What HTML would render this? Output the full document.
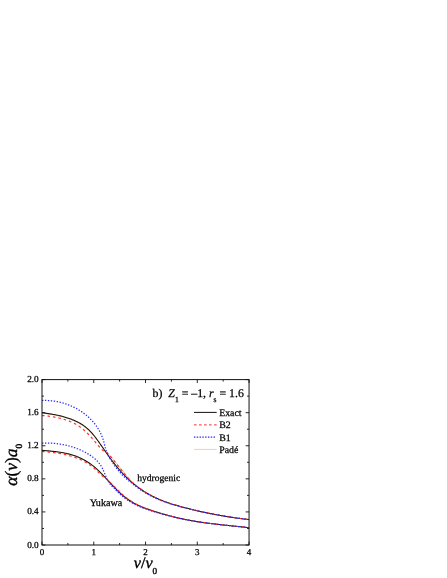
<!DOCTYPE html>
<html><head><meta charset="utf-8"><title>chart</title>
<style>
html,body{margin:0;padding:0;background:#fff;}
body{width:447px;height:578px;position:relative;overflow:hidden;font-family:"Liberation Serif",serif;}
</style></head><body>
<svg width="447" height="578" viewBox="0 0 447 578" style="position:absolute;left:0;top:0;will-change:transform">
<rect width="447" height="578" fill="#fff"/>
<g fill="none" stroke-linejoin="round">
<path d="M42.00,412.99 L42.80,413.12 L43.60,413.24 L44.40,413.36 L45.20,413.48 L46.00,413.61 L46.80,413.73 L47.60,413.86 L48.40,413.99 L49.19,414.12 L49.99,414.25 L50.79,414.39 L51.59,414.53 L52.39,414.67 L53.19,414.81 L53.99,414.96 L54.79,415.11 L55.59,415.27 L56.39,415.43 L57.19,415.60 L57.99,415.77 L58.79,415.95 L59.59,416.14 L60.39,416.33 L61.19,416.53 L61.99,416.73 L62.78,416.94 L63.58,417.16 L64.38,417.38 L65.18,417.62 L65.98,417.86 L66.78,418.11 L67.58,418.37 L68.38,418.64 L69.18,418.92 L69.98,419.21 L70.78,419.50 L71.58,419.81 L72.38,420.13 L73.18,420.46 L73.98,420.80 L74.78,421.16 L75.58,421.52 L76.38,421.90 L77.17,422.29 L77.97,422.70 L78.77,423.12 L79.57,423.56 L80.37,424.03 L81.17,424.51 L81.97,425.01 L82.77,425.54 L83.57,426.09 L84.37,426.66 L85.17,427.27 L85.97,427.90 L86.77,428.56 L87.57,429.25 L88.37,429.97 L89.17,430.73 L89.97,431.52 L90.76,432.34 L91.56,433.21 L92.36,434.10 L93.16,435.04 L93.96,436.00 L94.76,437.00 L95.56,438.02 L96.36,439.07 L97.16,440.14 L97.96,441.23 L98.76,442.33 L99.56,443.45 L100.36,444.57 L101.16,445.68 L101.96,446.77 L102.76,447.84 L103.56,448.89 L104.35,449.91 L105.15,450.81 L105.95,451.60 L106.75,452.36 L107.55,453.13 L108.35,453.95 L109.15,454.75 L109.95,455.55 L110.75,456.38 L111.55,457.27 L112.35,458.25 L113.15,459.24 L113.95,460.22 L114.75,461.20 L115.55,462.18 L116.35,463.15 L117.15,464.12 L117.94,465.09 L118.74,466.06 L119.54,467.04 L120.34,468.01 L121.14,468.97 L121.94,469.93 L122.74,470.91 L123.54,471.93 L124.34,472.97 L125.14,474.00 L125.94,475.00 L126.74,475.96 L127.54,476.92 L128.34,477.86 L129.14,478.78 L129.94,479.66 L130.74,480.50 L131.54,481.29 L132.33,482.06 L133.13,482.81 L133.93,483.55 L134.73,484.26 L135.53,484.95 L136.33,485.62 L137.13,486.27 L137.93,486.90 L138.73,487.51 L139.53,488.11 L140.33,488.69 L141.13,489.26 L141.93,489.83 L142.73,490.38 L143.53,490.91 L144.33,491.44 L145.13,491.96 L145.92,492.46 L146.72,492.95 L147.52,493.44 L148.32,493.91 L149.12,494.37 L149.92,494.82 L150.72,495.26 L151.52,495.70 L152.32,496.12 L153.12,496.53 L153.92,496.93 L154.72,497.33 L155.52,497.71 L156.32,498.09 L157.12,498.46 L157.92,498.82 L158.72,499.17 L159.51,499.51 L160.31,499.85 L161.11,500.18 L161.91,500.50 L162.71,500.81 L163.51,501.12 L164.31,501.43 L165.11,501.72 L165.91,502.02 L166.71,502.30 L167.51,502.58 L168.31,502.86 L169.11,503.13 L169.91,503.39 L170.71,503.66 L171.51,503.91 L172.31,504.17 L173.11,504.41 L173.90,504.66 L174.70,504.90 L175.50,505.14 L176.30,505.37 L177.10,505.60 L177.90,505.83 L178.70,506.06 L179.50,506.28 L180.30,506.50 L181.10,506.72 L181.90,506.93 L182.70,507.15 L183.50,507.36 L184.30,507.57 L185.10,507.78 L185.90,507.99 L186.70,508.20 L187.49,508.40 L188.29,508.60 L189.09,508.80 L189.89,509.00 L190.69,509.20 L191.49,509.40 L192.29,509.59 L193.09,509.78 L193.89,509.98 L194.69,510.17 L195.49,510.35 L196.29,510.54 L197.09,510.72 L197.89,510.91 L198.69,511.09 L199.49,511.27 L200.29,511.45 L201.08,511.63 L201.88,511.80 L202.68,511.97 L203.48,512.15 L204.28,512.32 L205.08,512.49 L205.88,512.65 L206.68,512.82 L207.48,512.99 L208.28,513.15 L209.08,513.31 L209.88,513.47 L210.68,513.63 L211.48,513.79 L212.28,513.94 L213.08,514.10 L213.88,514.25 L214.67,514.40 L215.47,514.55 L216.27,514.70 L217.07,514.84 L217.87,514.99 L218.67,515.13 L219.47,515.28 L220.27,515.42 L221.07,515.56 L221.87,515.69 L222.67,515.83 L223.47,515.97 L224.27,516.10 L225.07,516.23 L225.87,516.37 L226.67,516.49 L227.47,516.62 L228.27,516.75 L229.06,516.88 L229.86,517.00 L230.66,517.12 L231.46,517.25 L232.26,517.37 L233.06,517.48 L233.86,517.60 L234.66,517.72 L235.46,517.83 L236.26,517.95 L237.06,518.06 L237.86,518.17 L238.66,518.28 L239.46,518.39 L240.26,518.50 L241.06,518.60 L241.86,518.71 L242.65,518.81 L243.45,518.91 L244.25,519.01 L245.05,519.11 L245.85,519.21 L246.65,519.31 L247.45,519.41 L248.25,519.50 L249.05,519.59" stroke="#fbb883" stroke-width="0.9"/>
<path d="M42.00,450.50 L42.80,450.58 L43.60,450.66 L44.40,450.73 L45.20,450.81 L46.00,450.89 L46.80,450.96 L47.60,451.04 L48.40,451.12 L49.19,451.19 L49.99,451.27 L50.79,451.35 L51.59,451.44 L52.39,451.52 L53.19,451.61 L53.99,451.70 L54.79,451.79 L55.59,451.89 L56.39,451.99 L57.19,452.09 L57.99,452.20 L58.79,452.31 L59.59,452.43 L60.39,452.56 L61.19,452.69 L61.99,452.82 L62.78,452.96 L63.58,453.11 L64.38,453.27 L65.18,453.43 L65.98,453.60 L66.78,453.78 L67.58,453.97 L68.38,454.16 L69.18,454.36 L69.98,454.58 L70.78,454.80 L71.58,455.03 L72.38,455.27 L73.18,455.53 L73.98,455.79 L74.78,456.07 L75.58,456.35 L76.38,456.65 L77.17,456.96 L77.97,457.28 L78.77,457.62 L79.57,457.96 L80.37,458.32 L81.17,458.70 L81.97,459.09 L82.77,459.49 L83.57,459.91 L84.37,460.34 L85.17,460.79 L85.97,461.25 L86.77,461.73 L87.57,462.23 L88.37,462.75 L89.17,463.28 L89.97,463.83 L90.76,464.40 L91.56,464.99 L92.36,465.60 L93.16,466.22 L93.96,466.87 L94.76,467.54 L95.56,468.22 L96.36,468.92 L97.16,469.64 L97.96,470.36 L98.76,471.10 L99.56,471.85 L100.36,472.61 L101.16,473.38 L101.96,474.16 L102.76,474.95 L103.56,475.73 L104.35,476.46 L105.15,477.16 L105.95,477.85 L106.75,478.55 L107.55,479.28 L108.35,480.05 L109.15,480.83 L109.95,481.61 L110.75,482.39 L111.55,483.17 L112.35,483.97 L113.15,484.78 L113.95,485.60 L114.75,486.43 L115.55,487.25 L116.35,488.07 L117.15,488.87 L117.94,489.67 L118.74,490.45 L119.54,491.23 L120.34,491.99 L121.14,492.73 L121.94,493.48 L122.74,494.22 L123.54,494.97 L124.34,495.70 L125.14,496.42 L125.94,497.12 L126.74,497.80 L127.54,498.44 L128.34,499.06 L129.14,499.65 L129.94,500.22 L130.74,500.78 L131.54,501.32 L132.33,501.84 L133.13,502.35 L133.93,502.84 L134.73,503.30 L135.53,503.76 L136.33,504.19 L137.13,504.61 L137.93,505.01 L138.73,505.39 L139.53,505.76 L140.33,506.12 L141.13,506.47 L141.93,506.82 L142.73,507.15 L143.53,507.47 L144.33,507.79 L145.13,508.10 L145.92,508.40 L146.72,508.70 L147.52,508.99 L148.32,509.28 L149.12,509.56 L149.92,509.84 L150.72,510.11 L151.52,510.38 L152.32,510.65 L153.12,510.91 L153.92,511.18 L154.72,511.44 L155.52,511.69 L156.32,511.95 L157.12,512.20 L157.92,512.45 L158.72,512.70 L159.51,512.94 L160.31,513.18 L161.11,513.42 L161.91,513.66 L162.71,513.89 L163.51,514.13 L164.31,514.36 L165.11,514.58 L165.91,514.81 L166.71,515.03 L167.51,515.25 L168.31,515.47 L169.11,515.69 L169.91,515.90 L170.71,516.11 L171.51,516.32 L172.31,516.53 L173.11,516.73 L173.90,516.93 L174.70,517.13 L175.50,517.33 L176.30,517.52 L177.10,517.71 L177.90,517.90 L178.70,518.08 L179.50,518.27 L180.30,518.45 L181.10,518.62 L181.90,518.80 L182.70,518.97 L183.50,519.14 L184.30,519.30 L185.10,519.47 L185.90,519.63 L186.70,519.79 L187.49,519.94 L188.29,520.09 L189.09,520.24 L189.89,520.39 L190.69,520.54 L191.49,520.68 L192.29,520.82 L193.09,520.96 L193.89,521.10 L194.69,521.23 L195.49,521.36 L196.29,521.49 L197.09,521.62 L197.89,521.75 L198.69,521.87 L199.49,521.99 L200.29,522.11 L201.08,522.23 L201.88,522.35 L202.68,522.46 L203.48,522.57 L204.28,522.69 L205.08,522.80 L205.88,522.90 L206.68,523.01 L207.48,523.12 L208.28,523.22 L209.08,523.32 L209.88,523.42 L210.68,523.53 L211.48,523.62 L212.28,523.72 L213.08,523.82 L213.88,523.91 L214.67,524.01 L215.47,524.10 L216.27,524.19 L217.07,524.28 L217.87,524.38 L218.67,524.47 L219.47,524.55 L220.27,524.64 L221.07,524.73 L221.87,524.82 L222.67,524.90 L223.47,524.99 L224.27,525.07 L225.07,525.16 L225.87,525.24 L226.67,525.33 L227.47,525.41 L228.27,525.49 L229.06,525.58 L229.86,525.66 L230.66,525.74 L231.46,525.82 L232.26,525.91 L233.06,525.99 L233.86,526.07 L234.66,526.15 L235.46,526.24 L236.26,526.32 L237.06,526.40 L237.86,526.49 L238.66,526.57 L239.46,526.65 L240.26,526.74 L241.06,526.82 L241.86,526.91 L242.65,526.99 L243.45,527.08 L244.25,527.17 L245.05,527.25 L245.85,527.34 L246.65,527.43 L247.45,527.52 L248.25,527.61 L249.05,527.70" stroke="#fbb883" stroke-width="0.9"/>
<path d="M42.00,412.69 L42.80,412.81 L43.60,412.92 L44.40,413.03 L45.20,413.15 L46.00,413.26 L46.80,413.38 L47.60,413.50 L48.40,413.62 L49.19,413.74 L49.99,413.87 L50.79,414.00 L51.59,414.13 L52.39,414.26 L53.19,414.40 L53.99,414.55 L54.79,414.69 L55.59,414.85 L56.39,415.00 L57.19,415.17 L57.99,415.33 L58.79,415.51 L59.59,415.69 L60.39,415.88 L61.19,416.07 L61.99,416.27 L62.78,416.48 L63.58,416.69 L64.38,416.91 L65.18,417.15 L65.98,417.39 L66.78,417.63 L67.58,417.89 L68.38,418.16 L69.18,418.43 L69.98,418.72 L70.78,419.02 L71.58,419.32 L72.38,419.64 L73.18,419.97 L73.98,420.31 L74.78,420.66 L75.58,421.03 L76.38,421.40 L77.17,421.80 L77.97,422.20 L78.77,422.63 L79.57,423.07 L80.37,423.53 L81.17,424.01 L81.97,424.51 L82.77,425.04 L83.57,425.59 L84.37,426.16 L85.17,426.77 L85.97,427.40 L86.77,428.06 L87.57,428.75 L88.37,429.47 L89.17,430.23 L89.97,431.02 L90.76,431.84 L91.56,432.71 L92.36,433.61 L93.16,434.55 L93.96,435.52 L94.76,436.52 L95.56,437.55 L96.36,438.61 L97.16,439.69 L97.96,440.79 L98.76,441.91 L99.56,443.04 L100.36,444.18 L101.16,445.34 L101.96,446.50 L102.76,447.66 L103.56,448.82 L104.35,449.98 L105.15,451.14 L105.95,452.29 L106.75,453.43 L107.55,454.56 L108.35,455.67 L109.15,456.78 L109.95,457.87 L110.75,458.95 L111.55,460.02 L112.35,461.07 L113.15,462.11 L113.95,463.14 L114.75,464.16 L115.55,465.16 L116.35,466.14 L117.15,467.12 L117.94,468.07 L118.74,469.02 L119.54,469.95 L120.34,470.86 L121.14,471.75 L121.94,472.64 L122.74,473.50 L123.54,474.35 L124.34,475.18 L125.14,476.00 L125.94,476.81 L126.74,477.60 L127.54,478.37 L128.34,479.13 L129.14,479.88 L129.94,480.61 L130.74,481.33 L131.54,482.03 L132.33,482.72 L133.13,483.40 L133.93,484.07 L134.73,484.72 L135.53,485.36 L136.33,485.98 L137.13,486.60 L137.93,487.20 L138.73,487.79 L139.53,488.37 L140.33,488.93 L141.13,489.49 L141.93,490.03 L142.73,490.56 L143.53,491.09 L144.33,491.60 L145.13,492.10 L145.92,492.59 L146.72,493.07 L147.52,493.54 L148.32,494.00 L149.12,494.45 L149.92,494.89 L150.72,495.32 L151.52,495.74 L152.32,496.16 L153.12,496.56 L153.92,496.96 L154.72,497.35 L155.52,497.73 L156.32,498.10 L157.12,498.46 L157.92,498.82 L158.72,499.17 L159.51,499.51 L160.31,499.85 L161.11,500.18 L161.91,500.50 L162.71,500.81 L163.51,501.12 L164.31,501.43 L165.11,501.72 L165.91,502.02 L166.71,502.30 L167.51,502.58 L168.31,502.86 L169.11,503.13 L169.91,503.39 L170.71,503.66 L171.51,503.91 L172.31,504.17 L173.11,504.41 L173.90,504.66 L174.70,504.90 L175.50,505.14 L176.30,505.37 L177.10,505.60 L177.90,505.83 L178.70,506.06 L179.50,506.28 L180.30,506.50 L181.10,506.72 L181.90,506.93 L182.70,507.15 L183.50,507.36 L184.30,507.57 L185.10,507.78 L185.90,507.99 L186.70,508.20 L187.49,508.40 L188.29,508.60 L189.09,508.80 L189.89,509.00 L190.69,509.20 L191.49,509.40 L192.29,509.59 L193.09,509.78 L193.89,509.98 L194.69,510.17 L195.49,510.35 L196.29,510.54 L197.09,510.72 L197.89,510.91 L198.69,511.09 L199.49,511.27 L200.29,511.45 L201.08,511.63 L201.88,511.80 L202.68,511.97 L203.48,512.15 L204.28,512.32 L205.08,512.49 L205.88,512.65 L206.68,512.82 L207.48,512.99 L208.28,513.15 L209.08,513.31 L209.88,513.47 L210.68,513.63 L211.48,513.79 L212.28,513.94 L213.08,514.10 L213.88,514.25 L214.67,514.40 L215.47,514.55 L216.27,514.70 L217.07,514.84 L217.87,514.99 L218.67,515.13 L219.47,515.28 L220.27,515.42 L221.07,515.56 L221.87,515.69 L222.67,515.83 L223.47,515.97 L224.27,516.10 L225.07,516.23 L225.87,516.37 L226.67,516.49 L227.47,516.62 L228.27,516.75 L229.06,516.88 L229.86,517.00 L230.66,517.12 L231.46,517.25 L232.26,517.37 L233.06,517.48 L233.86,517.60 L234.66,517.72 L235.46,517.83 L236.26,517.95 L237.06,518.06 L237.86,518.17 L238.66,518.28 L239.46,518.39 L240.26,518.50 L241.06,518.60 L241.86,518.71 L242.65,518.81 L243.45,518.91 L244.25,519.01 L245.05,519.11 L245.85,519.21 L246.65,519.31 L247.45,519.41 L248.25,519.50 L249.05,519.59" stroke="#1a1208" stroke-width="1.05"/>
<path d="M42.00,450.30 L42.80,450.37 L43.60,450.45 L44.40,450.52 L45.20,450.59 L46.00,450.66 L46.80,450.74 L47.60,450.81 L48.40,450.88 L49.19,450.96 L49.99,451.03 L50.79,451.11 L51.59,451.19 L52.39,451.27 L53.19,451.36 L53.99,451.44 L54.79,451.53 L55.59,451.63 L56.39,451.73 L57.19,451.83 L57.99,451.93 L58.79,452.05 L59.59,452.16 L60.39,452.28 L61.19,452.41 L61.99,452.55 L62.78,452.69 L63.58,452.83 L64.38,452.99 L65.18,453.15 L65.98,453.32 L66.78,453.49 L67.58,453.68 L68.38,453.87 L69.18,454.08 L69.98,454.29 L70.78,454.51 L71.58,454.74 L72.38,454.98 L73.18,455.23 L73.98,455.50 L74.78,455.77 L75.58,456.06 L76.38,456.35 L77.17,456.66 L77.97,456.98 L78.77,457.32 L79.57,457.67 L80.37,458.03 L81.17,458.40 L81.97,458.79 L82.77,459.19 L83.57,459.61 L84.37,460.04 L85.17,460.49 L85.97,460.95 L86.77,461.44 L87.57,461.93 L88.37,462.45 L89.17,462.98 L89.97,463.53 L90.76,464.10 L91.56,464.69 L92.36,465.30 L93.16,465.92 L93.96,466.57 L94.76,467.24 L95.56,467.93 L96.36,468.64 L97.16,469.36 L97.96,470.11 L98.76,470.88 L99.56,471.66 L100.36,472.46 L101.16,473.27 L101.96,474.10 L102.76,474.93 L103.56,475.78 L104.35,476.64 L105.15,477.50 L105.95,478.37 L106.75,479.24 L107.55,480.12 L108.35,480.99 L109.15,481.86 L109.95,482.73 L110.75,483.60 L111.55,484.46 L112.35,485.31 L113.15,486.16 L113.95,487.00 L114.75,487.83 L115.55,488.65 L116.35,489.45 L117.15,490.25 L117.94,491.03 L118.74,491.80 L119.54,492.56 L120.34,493.30 L121.14,494.03 L121.94,494.74 L122.74,495.43 L123.54,496.10 L124.34,496.76 L125.14,497.39 L125.94,498.01 L126.74,498.60 L127.54,499.18 L128.34,499.74 L129.14,500.28 L129.94,500.80 L130.74,501.31 L131.54,501.80 L132.33,502.27 L133.13,502.73 L133.93,503.18 L134.73,503.61 L135.53,504.03 L136.33,504.43 L137.13,504.83 L137.93,505.21 L138.73,505.58 L139.53,505.94 L140.33,506.28 L141.13,506.62 L141.93,506.95 L142.73,507.28 L143.53,507.59 L144.33,507.90 L145.13,508.20 L145.92,508.49 L146.72,508.78 L147.52,509.06 L148.32,509.34 L149.12,509.61 L149.92,509.88 L150.72,510.15 L151.52,510.41 L152.32,510.67 L153.12,510.93 L153.92,511.19 L154.72,511.45 L155.52,511.70 L156.32,511.95 L157.12,512.20 L157.92,512.45 L158.72,512.70 L159.51,512.94 L160.31,513.18 L161.11,513.42 L161.91,513.66 L162.71,513.89 L163.51,514.13 L164.31,514.36 L165.11,514.58 L165.91,514.81 L166.71,515.03 L167.51,515.25 L168.31,515.47 L169.11,515.69 L169.91,515.90 L170.71,516.11 L171.51,516.32 L172.31,516.53 L173.11,516.73 L173.90,516.93 L174.70,517.13 L175.50,517.33 L176.30,517.52 L177.10,517.71 L177.90,517.90 L178.70,518.08 L179.50,518.27 L180.30,518.45 L181.10,518.62 L181.90,518.80 L182.70,518.97 L183.50,519.14 L184.30,519.30 L185.10,519.47 L185.90,519.63 L186.70,519.79 L187.49,519.94 L188.29,520.09 L189.09,520.24 L189.89,520.39 L190.69,520.54 L191.49,520.68 L192.29,520.82 L193.09,520.96 L193.89,521.10 L194.69,521.23 L195.49,521.36 L196.29,521.49 L197.09,521.62 L197.89,521.75 L198.69,521.87 L199.49,521.99 L200.29,522.11 L201.08,522.23 L201.88,522.35 L202.68,522.46 L203.48,522.57 L204.28,522.69 L205.08,522.80 L205.88,522.90 L206.68,523.01 L207.48,523.12 L208.28,523.22 L209.08,523.32 L209.88,523.42 L210.68,523.53 L211.48,523.62 L212.28,523.72 L213.08,523.82 L213.88,523.91 L214.67,524.01 L215.47,524.10 L216.27,524.19 L217.07,524.28 L217.87,524.38 L218.67,524.47 L219.47,524.55 L220.27,524.64 L221.07,524.73 L221.87,524.82 L222.67,524.90 L223.47,524.99 L224.27,525.07 L225.07,525.16 L225.87,525.24 L226.67,525.33 L227.47,525.41 L228.27,525.49 L229.06,525.58 L229.86,525.66 L230.66,525.74 L231.46,525.82 L232.26,525.91 L233.06,525.99 L233.86,526.07 L234.66,526.15 L235.46,526.24 L236.26,526.32 L237.06,526.40 L237.86,526.49 L238.66,526.57 L239.46,526.65 L240.26,526.74 L241.06,526.82 L241.86,526.91 L242.65,526.99 L243.45,527.08 L244.25,527.17 L245.05,527.25 L245.85,527.34 L246.65,527.43 L247.45,527.52 L248.25,527.61 L249.05,527.70" stroke="#1a1208" stroke-width="1.05"/>
<path d="M42.00,415.49 L42.80,415.57 L43.60,415.64 L44.40,415.72 L45.20,415.80 L46.00,415.88 L46.80,415.96 L47.60,416.05 L48.40,416.15 L49.19,416.26 L49.99,416.37 L50.79,416.50 L51.59,416.63 L52.39,416.76 L53.19,416.90 L53.99,417.05 L54.79,417.19 L55.59,417.35 L56.39,417.50 L57.19,417.67 L57.99,417.83 L58.79,418.01 L59.59,418.19 L60.39,418.38 L61.19,418.57 L61.99,418.77 L62.78,418.98 L63.58,419.20 L64.38,419.44 L65.18,419.69 L65.98,419.95 L66.78,420.22 L67.58,420.50 L68.38,420.80 L69.18,421.10 L69.98,421.42 L70.78,421.75 L71.58,422.10 L72.38,422.46 L73.18,422.84 L73.98,423.23 L74.78,423.65 L75.58,424.08 L76.38,424.54 L77.17,425.02 L77.97,425.53 L78.77,426.06 L79.57,426.61 L80.37,427.18 L81.17,427.77 L81.97,428.38 L82.77,429.03 L83.57,429.69 L84.37,430.38 L85.17,431.09 L85.97,431.83 L86.77,432.61 L87.57,433.41 L88.37,434.24 L89.17,435.07 L89.97,435.92 L90.76,436.78 L91.56,437.67 L92.36,438.60 L93.16,439.55 L93.96,440.51 L94.76,441.46 L95.56,442.40 L96.36,443.37 L97.16,444.31 L97.96,445.24 L98.76,446.17 L99.56,447.07 L100.36,447.94 L101.16,448.77 L101.96,449.57 L102.76,450.28 L103.56,450.85 L104.35,451.17 L105.15,451.48 L105.95,451.88 L106.75,452.37 L107.55,453.09 L108.35,453.86 L109.15,454.68 L109.95,455.57 L110.75,456.55 L111.55,457.56 L112.35,458.57 L113.15,459.58 L113.95,460.57 L114.75,461.57 L115.55,462.56 L116.35,463.55 L117.15,464.55 L117.94,465.57 L118.74,466.59 L119.54,467.60 L120.34,468.60 L121.14,469.60 L121.94,470.61 L122.74,471.62 L123.54,472.61 L124.34,473.59 L125.14,474.57 L125.94,475.54 L126.74,476.50 L127.54,477.44 L128.34,478.34 L129.14,479.19 L129.94,480.02 L130.74,480.82 L131.54,481.60 L132.33,482.35 L133.13,483.07 L133.93,483.77 L134.73,484.43 L135.53,485.08 L136.33,485.72 L137.13,486.34 L137.93,486.95 L138.73,487.54 L139.53,488.13 L140.33,488.70 L141.13,489.26 L141.93,489.81 L142.73,490.34 L143.53,490.87 L144.33,491.39 L145.13,491.90 L145.92,492.40 L146.72,492.89 L147.52,493.37 L148.32,493.84 L149.12,494.31 L149.92,494.76 L150.72,495.21 L151.52,495.65 L152.32,496.07 L153.12,496.49 L153.92,496.90 L154.72,497.30 L155.52,497.69 L156.32,498.08 L157.12,498.45 L157.92,498.81 L158.72,499.17 L159.51,499.51 L160.31,499.85 L161.11,500.18 L161.91,500.50 L162.71,500.81 L163.51,501.12 L164.31,501.43 L165.11,501.72 L165.91,502.02 L166.71,502.30 L167.51,502.58 L168.31,502.86 L169.11,503.13 L169.91,503.39 L170.71,503.66 L171.51,503.91 L172.31,504.17 L173.11,504.41 L173.90,504.66 L174.70,504.90 L175.50,505.14 L176.30,505.37 L177.10,505.60 L177.90,505.83 L178.70,506.06 L179.50,506.28 L180.30,506.50 L181.10,506.72 L181.90,506.93 L182.70,507.15 L183.50,507.36 L184.30,507.57 L185.10,507.78 L185.90,507.99 L186.70,508.20 L187.49,508.40 L188.29,508.60 L189.09,508.80 L189.89,509.00 L190.69,509.20 L191.49,509.40 L192.29,509.59 L193.09,509.78 L193.89,509.98 L194.69,510.17 L195.49,510.35 L196.29,510.54 L197.09,510.72 L197.89,510.91 L198.69,511.09 L199.49,511.27 L200.29,511.45 L201.08,511.63 L201.88,511.80 L202.68,511.97 L203.48,512.15 L204.28,512.32 L205.08,512.49 L205.88,512.65 L206.68,512.82 L207.48,512.99 L208.28,513.15 L209.08,513.31 L209.88,513.47 L210.68,513.63 L211.48,513.79 L212.28,513.94 L213.08,514.10 L213.88,514.25 L214.67,514.40 L215.47,514.55 L216.27,514.70 L217.07,514.84 L217.87,514.99 L218.67,515.13 L219.47,515.28 L220.27,515.42 L221.07,515.56 L221.87,515.69 L222.67,515.83 L223.47,515.97 L224.27,516.10 L225.07,516.23 L225.87,516.37 L226.67,516.49 L227.47,516.62 L228.27,516.75 L229.06,516.88 L229.86,517.00 L230.66,517.12 L231.46,517.25 L232.26,517.37 L233.06,517.48 L233.86,517.60 L234.66,517.72 L235.46,517.83 L236.26,517.95 L237.06,518.06 L237.86,518.17 L238.66,518.28 L239.46,518.39 L240.26,518.50 L241.06,518.60 L241.86,518.71 L242.65,518.81 L243.45,518.91 L244.25,519.01 L245.05,519.11 L245.85,519.21 L246.65,519.31 L247.45,519.41 L248.25,519.50 L249.05,519.59" stroke="#ff2a2a" stroke-width="1.15" stroke-dasharray="2.6 2.9"/>
<path d="M42.00,451.40 L42.80,451.48 L43.60,451.56 L44.40,451.65 L45.20,451.73 L46.00,451.81 L46.80,451.89 L47.60,451.97 L48.40,452.06 L49.19,452.14 L49.99,452.23 L50.79,452.31 L51.59,452.40 L52.39,452.50 L53.19,452.59 L53.99,452.69 L54.79,452.79 L55.59,452.89 L56.39,453.00 L57.19,453.12 L57.99,453.23 L58.79,453.36 L59.59,453.49 L60.39,453.62 L61.19,453.77 L61.99,453.92 L62.78,454.08 L63.58,454.24 L64.38,454.41 L65.18,454.59 L65.98,454.78 L66.78,454.97 L67.58,455.17 L68.38,455.38 L69.18,455.60 L69.98,455.83 L70.78,456.06 L71.58,456.31 L72.38,456.56 L73.18,456.82 L73.98,457.09 L74.78,457.37 L75.58,457.66 L76.38,457.95 L77.17,458.24 L77.97,458.53 L78.77,458.84 L79.57,459.17 L80.37,459.53 L81.17,459.90 L81.97,460.29 L82.77,460.69 L83.57,461.11 L84.37,461.54 L85.17,461.99 L85.97,462.45 L86.77,462.94 L87.57,463.43 L88.37,463.95 L89.17,464.48 L89.97,465.04 L90.76,465.62 L91.56,466.23 L92.36,466.86 L93.16,467.50 L93.96,468.17 L94.76,468.86 L95.56,469.56 L96.36,470.29 L97.16,471.04 L97.96,471.80 L98.76,472.58 L99.56,473.34 L100.36,474.07 L101.16,474.79 L101.96,475.50 L102.76,476.22 L103.56,476.91 L104.35,477.58 L105.15,478.18 L105.95,478.72 L106.75,479.30 L107.55,480.01 L108.35,480.76 L109.15,481.53 L109.95,482.34 L110.75,483.15 L111.55,483.97 L112.35,484.78 L113.15,485.59 L113.95,486.41 L114.75,487.23 L115.55,488.05 L116.35,488.86 L117.15,489.66 L117.94,490.44 L118.74,491.22 L119.54,491.99 L120.34,492.74 L121.14,493.47 L121.94,494.19 L122.74,494.89 L123.54,495.58 L124.34,496.25 L125.14,496.89 L125.94,497.52 L126.74,498.14 L127.54,498.74 L128.34,499.33 L129.14,499.90 L129.94,500.45 L130.74,500.99 L131.54,501.51 L132.33,502.01 L133.13,502.49 L133.93,502.96 L134.73,503.40 L135.53,503.83 L136.33,504.25 L137.13,504.65 L137.93,505.05 L138.73,505.43 L139.53,505.79 L140.33,506.15 L141.13,506.50 L141.93,506.84 L142.73,507.17 L143.53,507.50 L144.33,507.81 L145.13,508.12 L145.92,508.42 L146.72,508.71 L147.52,509.00 L148.32,509.29 L149.12,509.57 L149.92,509.84 L150.72,510.12 L151.52,510.38 L152.32,510.65 L153.12,510.92 L153.92,511.18 L154.72,511.44 L155.52,511.69 L156.32,511.95 L157.12,512.20 L157.92,512.45 L158.72,512.70 L159.51,512.94 L160.31,513.18 L161.11,513.42 L161.91,513.66 L162.71,513.89 L163.51,514.13 L164.31,514.36 L165.11,514.58 L165.91,514.81 L166.71,515.03 L167.51,515.25 L168.31,515.47 L169.11,515.69 L169.91,515.90 L170.71,516.11 L171.51,516.32 L172.31,516.53 L173.11,516.73 L173.90,516.93 L174.70,517.13 L175.50,517.33 L176.30,517.52 L177.10,517.71 L177.90,517.90 L178.70,518.08 L179.50,518.27 L180.30,518.45 L181.10,518.62 L181.90,518.80 L182.70,518.97 L183.50,519.14 L184.30,519.30 L185.10,519.47 L185.90,519.63 L186.70,519.79 L187.49,519.94 L188.29,520.09 L189.09,520.24 L189.89,520.39 L190.69,520.54 L191.49,520.68 L192.29,520.82 L193.09,520.96 L193.89,521.10 L194.69,521.23 L195.49,521.36 L196.29,521.49 L197.09,521.62 L197.89,521.75 L198.69,521.87 L199.49,521.99 L200.29,522.11 L201.08,522.23 L201.88,522.35 L202.68,522.46 L203.48,522.57 L204.28,522.69 L205.08,522.80 L205.88,522.90 L206.68,523.01 L207.48,523.12 L208.28,523.22 L209.08,523.32 L209.88,523.42 L210.68,523.53 L211.48,523.62 L212.28,523.72 L213.08,523.82 L213.88,523.91 L214.67,524.01 L215.47,524.10 L216.27,524.19 L217.07,524.28 L217.87,524.38 L218.67,524.47 L219.47,524.55 L220.27,524.64 L221.07,524.73 L221.87,524.82 L222.67,524.90 L223.47,524.99 L224.27,525.07 L225.07,525.16 L225.87,525.24 L226.67,525.33 L227.47,525.41 L228.27,525.49 L229.06,525.58 L229.86,525.66 L230.66,525.74 L231.46,525.82 L232.26,525.91 L233.06,525.99 L233.86,526.07 L234.66,526.15 L235.46,526.24 L236.26,526.32 L237.06,526.40 L237.86,526.49 L238.66,526.57 L239.46,526.65 L240.26,526.74 L241.06,526.82 L241.86,526.91 L242.65,526.99 L243.45,527.08 L244.25,527.17 L245.05,527.25 L245.85,527.34 L246.65,527.43 L247.45,527.52 L248.25,527.61 L249.05,527.70" stroke="#ff2a2a" stroke-width="1.15" stroke-dasharray="2.6 2.9"/>
<path d="M42.00,400.51 L42.52,400.48 L43.04,400.47 L43.56,400.45 L44.08,400.44 L44.60,400.43 L45.12,400.43 L45.65,400.44 L46.17,400.44 L46.69,400.46 L47.22,400.47 L47.74,400.49 L48.26,400.52 L48.79,400.55 L49.31,400.58 L49.83,400.62 L50.35,400.66 L50.88,400.71 L51.40,400.76 L51.92,400.82 L52.45,400.88 L52.97,400.94 L53.49,401.01 L54.01,401.09 L54.53,401.16 L55.05,401.24 L55.57,401.33 L56.09,401.42 L56.61,401.51 L57.13,401.61 L57.65,401.71 L58.16,401.82 L58.68,401.93 L59.19,402.05 L59.71,402.17 L60.22,402.29 L60.74,402.42 L61.25,402.55 L61.76,402.68 L62.27,402.82 L62.78,402.97 L63.29,403.11 L63.79,403.27 L64.30,403.42 L64.80,403.58 L65.31,403.74 L65.81,403.91 L66.31,404.08 L66.81,404.26 L67.31,404.44 L67.80,404.62 L68.30,404.81 L68.79,405.00 L69.28,405.19 L69.77,405.39 L70.26,405.59 L70.75,405.80 L71.23,406.01 L71.72,406.23 L72.20,406.44 L72.68,406.66 L73.16,406.89 L73.63,407.12 L74.11,407.35 L74.58,407.59 L75.05,407.83 L75.52,408.07 L75.98,408.32 L76.45,408.57 L76.91,408.83 L77.37,409.09 L77.83,409.35 L78.28,409.61 L78.73,409.88 L79.18,410.16 L79.63,410.43 L80.08,410.71 L80.52,411.00 L80.96,411.28 L81.40,411.58 L81.83,411.87 L82.26,412.17 L82.69,412.47 L83.12,412.77 L83.54,413.08 L83.96,413.39 L84.38,413.71 L84.80,414.03 L85.21,414.35 L85.62,414.67 L86.03,415.00 L86.43,415.34 L86.83,415.67 L87.23,416.01 L87.62,416.35 L88.01,416.70 L88.40,417.05 L88.78,417.40 L89.16,417.75 L89.54,418.11 L89.92,418.47 L90.29,418.84 L90.65,419.21 L91.02,419.58 L91.38,419.95 L91.73,420.33 L92.09,420.71 L92.43,421.10 L92.78,421.49 L93.12,421.88 L93.46,422.27 L93.79,422.67 L94.12,423.07 L94.45,423.47 L94.77,423.88 L95.09,424.28 L95.40,424.70 L95.71,425.11 L96.02,425.53 L96.32,425.95 L96.62,426.38 L96.91,426.80 L97.20,427.23 L97.48,427.67 L97.76,428.10 L98.04,428.54 L98.31,428.98 L98.57,429.43 L98.84,429.87 L99.09,430.33 L99.35,430.78 L99.60,431.23 L99.84,431.69 L100.08,432.16 L100.31,432.62 L100.54,433.09 L100.77,433.56 L100.99,434.03 L101.20,434.51 L101.41,434.98 L101.61,435.47 L101.81,435.95 L102.01,436.44 L102.20,436.93 L102.38,437.42 L102.56,437.91 L102.73,438.41 L102.90,438.91 L103.07,439.41 L103.22,439.92 L103.38,440.42 L103.53,440.93 L103.68,441.44 L103.82,441.95 L103.96,442.47 L104.10,442.98 L104.24,443.50 L104.37,444.01 L104.51,444.53 L104.64,445.04 L104.78,445.56 L104.91,446.08 L105.05,446.59 L105.18,447.11 L105.32,447.62 L105.46,448.13 L105.61,448.64 L105.75,449.15 L105.90,449.66 L106.06,450.16 L106.21,450.67 L106.38,451.17 L106.54,451.66 L106.72,452.16 L106.90,452.65 L107.08,453.14 L107.28,453.62 L107.48,454.10 L107.69,454.58 L107.90,455.05 L108.13,455.52 L108.36,455.98 L108.61,456.44 L108.86,456.89 L109.13,457.34 L109.40,457.78 L109.68,458.22 L109.97,458.65 L110.26,459.09 L110.55,459.52 L110.85,459.95 L111.15,460.38 L111.45,460.81 L111.74,461.25 L112.04,461.69 L112.33,462.13 L112.61,462.58 L112.88,463.03 L113.15,463.48 L114.28,465.22 L115.17,466.44 L116.05,467.58 L116.93,468.65 L117.81,469.71 L118.69,470.75 L119.57,471.78 L120.45,472.78 L121.33,473.76 L122.21,474.73 L123.09,475.65 L123.97,476.51 L124.85,477.34 L125.74,478.13 L126.62,478.91 L127.50,479.68 L128.38,480.44 L129.26,481.19 L130.14,481.92 L131.02,482.63 L131.90,483.33 L132.78,484.02 L133.66,484.70 L134.54,485.38 L135.42,486.06 L136.31,486.73 L137.19,487.38 L138.07,488.02 L138.95,488.65 L139.83,489.27 L140.71,489.87 L141.59,490.46 L142.47,491.04 L143.35,491.60 L144.23,492.15 L145.11,492.69 L145.99,493.21 L146.88,493.72 L147.76,494.21 L148.64,494.70 L149.52,495.17 L150.40,495.63 L151.28,496.08 L152.16,496.52 L153.04,496.95 L153.92,497.37 L154.80,497.78 L155.68,498.18 L156.56,498.57 L157.44,498.95 L158.33,499.33 L159.21,499.69 L160.09,500.05 L160.97,500.40 L161.85,500.75 L162.73,501.09 L163.61,501.42 L164.49,501.74 L165.37,502.05 L166.25,502.36 L167.13,502.66 L168.01,502.96 L168.90,503.25 L169.78,503.54 L170.66,503.82 L171.54,504.09 L172.42,504.36 L173.30,504.63 L174.18,504.89 L175.06,505.14 L175.94,505.40 L176.82,505.64 L177.70,505.89 L178.58,506.13 L179.47,506.37 L180.35,506.61 L181.23,506.84 L182.11,507.08 L182.99,507.31 L183.87,507.53 L184.75,507.76 L185.63,507.98 L186.51,508.20 L187.39,508.42 L188.27,508.64 L189.15,508.86 L190.04,509.07 L190.92,509.28 L191.80,509.49 L192.68,509.70 L193.56,509.91 L194.44,510.12 L195.32,510.32 L196.20,510.53 L197.08,510.73 L197.96,510.93 L198.84,511.13 L199.72,511.32 L200.61,511.52 L201.49,511.71 L202.37,511.91 L203.25,512.10 L204.13,512.28 L205.01,512.47 L205.89,512.66 L206.77,512.84 L207.65,513.02 L208.53,513.20 L209.41,513.38 L210.29,513.55 L211.17,513.73 L212.06,513.90 L212.94,514.07 L213.82,514.24 L214.70,514.40 L215.58,514.57 L216.46,514.73 L217.34,514.89 L218.22,515.05 L219.10,515.21 L219.98,515.37 L220.86,515.52 L221.74,515.67 L222.63,515.82 L223.51,515.97 L224.39,516.12 L225.27,516.27 L226.15,516.41 L227.03,516.55 L227.91,516.69 L228.79,516.83 L229.67,516.97 L230.55,517.11 L231.43,517.24 L232.31,517.37 L233.20,517.50 L234.08,517.63 L234.96,517.76 L235.84,517.89 L236.72,518.01 L237.60,518.14 L238.48,518.26 L239.36,518.38 L240.24,518.50 L241.12,518.61 L242.00,518.73 L242.88,518.84 L243.77,518.95 L244.65,519.06 L245.53,519.17 L246.41,519.28 L247.29,519.39 L248.17,519.49 L249.05,519.59" stroke="#2a2aff" stroke-width="1.25" stroke-dasharray="1.35 1.6"/>
<path d="M42.02,443.07 L42.48,443.06 L42.93,443.05 L43.39,443.03 L43.85,443.03 L44.31,443.02 L44.77,443.01 L45.22,443.01 L45.68,443.01 L46.14,443.01 L46.60,443.02 L47.07,443.02 L47.53,443.03 L47.99,443.04 L48.45,443.06 L48.91,443.07 L49.37,443.09 L49.83,443.11 L50.30,443.13 L50.76,443.15 L51.22,443.18 L51.68,443.21 L52.15,443.24 L52.61,443.27 L53.07,443.30 L53.54,443.34 L54.00,443.38 L54.46,443.42 L54.92,443.46 L55.39,443.51 L55.85,443.56 L56.31,443.61 L56.77,443.66 L57.24,443.72 L57.70,443.78 L58.16,443.84 L58.62,443.90 L59.08,443.96 L59.55,444.03 L60.01,444.10 L60.47,444.17 L60.93,444.25 L61.39,444.32 L61.85,444.40 L62.31,444.48 L62.77,444.57 L63.22,444.65 L63.68,444.74 L64.14,444.83 L64.60,444.93 L65.05,445.02 L65.51,445.12 L65.96,445.22 L66.42,445.33 L66.87,445.43 L67.33,445.54 L67.78,445.65 L68.23,445.77 L68.68,445.88 L69.14,446.00 L69.59,446.12 L70.04,446.25 L70.48,446.37 L70.93,446.50 L71.38,446.64 L71.83,446.77 L72.27,446.91 L72.72,447.05 L73.16,447.19 L73.60,447.33 L74.05,447.48 L74.49,447.63 L74.93,447.78 L75.37,447.94 L75.80,448.10 L76.24,448.26 L76.68,448.42 L77.11,448.59 L77.55,448.75 L77.98,448.93 L78.41,449.10 L78.84,449.28 L79.27,449.46 L79.70,449.64 L80.13,449.82 L80.55,450.01 L80.97,450.20 L81.40,450.39 L81.82,450.59 L82.24,450.79 L82.66,450.99 L83.08,451.20 L83.49,451.40 L83.91,451.61 L84.32,451.83 L84.73,452.04 L85.14,452.26 L85.55,452.48 L85.96,452.71 L86.37,452.93 L86.77,453.16 L87.17,453.40 L87.57,453.63 L87.97,453.87 L88.37,454.11 L88.77,454.36 L89.16,454.61 L89.55,454.86 L89.94,455.11 L90.33,455.37 L90.72,455.63 L91.10,455.89 L91.48,456.16 L91.86,456.43 L92.23,456.70 L92.60,456.98 L92.97,457.26 L93.34,457.54 L93.70,457.83 L94.06,458.12 L94.41,458.41 L94.76,458.71 L95.11,459.01 L95.46,459.32 L95.79,459.63 L96.13,459.94 L96.46,460.26 L96.79,460.58 L97.11,460.91 L97.42,461.24 L97.73,461.57 L98.04,461.91 L98.34,462.25 L98.64,462.60 L98.93,462.95 L99.21,463.30 L99.49,463.66 L99.77,464.03 L100.04,464.39 L100.30,464.77 L100.55,465.14 L100.80,465.53 L101.05,465.91 L101.28,466.31 L101.51,466.70 L101.74,467.10 L101.95,467.51 L102.17,467.91 L102.38,468.33 L102.58,468.74 L102.78,469.16 L102.98,469.58 L103.17,470.00 L103.36,470.43 L103.55,470.86 L103.73,471.29 L103.91,471.72 L104.09,472.15 L104.27,472.59 L104.45,473.02 L104.63,473.46 L104.80,473.89 L104.98,474.33 L105.16,474.76 L105.34,475.20 L105.52,475.63 L105.70,476.07 L105.88,476.50 L106.06,476.93 L106.25,477.36 L106.44,477.79 L106.63,478.21 L106.83,478.63 L107.03,479.06 L107.24,479.47 L107.44,479.89 L107.66,480.30 L107.88,480.71 L108.10,481.11 L108.33,481.51 L108.57,481.90 L108.82,482.29 L109.07,482.68 L109.33,483.06 L109.59,483.44 L109.87,483.81 L110.15,484.17 L110.44,484.53 L110.74,484.88 L111.05,485.23 L111.36,485.57 L111.69,485.90 L112.02,486.23 L112.37,486.55 L112.72,486.87 L113.08,487.17 L113.45,487.48 L113.83,487.77 L114.22,488.06 L115.25,489.44 L116.12,490.33 L117.00,491.20 L117.87,492.05 L118.75,492.89 L119.62,493.70 L120.49,494.50 L121.37,495.27 L122.24,496.03 L123.12,496.76 L123.99,497.47 L124.87,498.16 L125.74,498.82 L126.62,499.45 L127.49,500.06 L128.37,500.64 L129.24,501.20 L130.11,501.75 L130.99,502.27 L131.86,502.77 L132.74,503.26 L133.61,503.73 L134.49,504.19 L135.36,504.63 L136.24,505.06 L137.11,505.48 L137.98,505.88 L138.86,506.28 L139.73,506.65 L140.61,507.02 L141.48,507.38 L142.36,507.73 L143.23,508.06 L144.11,508.39 L144.98,508.71 L145.86,509.02 L146.73,509.33 L147.60,509.62 L148.48,509.91 L149.35,510.20 L150.23,510.48 L151.10,510.76 L151.98,511.03 L152.85,511.29 L153.73,511.56 L154.60,511.82 L155.48,512.08 L156.35,512.34 L157.22,512.59 L158.10,512.84 L158.97,513.09 L159.85,513.34 L160.72,513.58 L161.60,513.82 L162.47,514.06 L163.35,514.30 L164.22,514.54 L165.10,514.78 L165.97,515.01 L166.84,515.25 L167.72,515.47 L168.59,515.70 L169.47,515.92 L170.34,516.14 L171.22,516.36 L172.09,516.58 L172.97,516.79 L173.84,517.00 L174.72,517.20 L175.59,517.41 L176.46,517.61 L177.34,517.81 L178.21,518.00 L179.09,518.20 L179.96,518.39 L180.84,518.58 L181.71,518.77 L182.59,518.95 L183.46,519.13 L184.33,519.31 L185.21,519.49 L186.08,519.66 L186.96,519.84 L187.83,520.01 L188.71,520.17 L189.58,520.33 L190.46,520.49 L191.33,520.65 L192.21,520.81 L193.08,520.96 L193.95,521.11 L194.83,521.25 L195.70,521.40 L196.58,521.54 L197.45,521.68 L198.33,521.81 L199.20,521.95 L200.08,522.08 L200.95,522.21 L201.83,522.34 L202.70,522.46 L203.57,522.59 L204.45,522.71 L205.32,522.83 L206.20,522.95 L207.07,523.06 L207.95,523.18 L208.82,523.29 L209.70,523.40 L210.57,523.51 L211.45,523.62 L212.32,523.73 L213.19,523.83 L214.07,523.94 L214.94,524.04 L215.82,524.14 L216.69,524.24 L217.57,524.34 L218.44,524.44 L219.32,524.54 L220.19,524.63 L221.07,524.73 L221.94,524.82 L222.81,524.92 L223.69,525.01 L224.56,525.11 L225.44,525.20 L226.31,525.29 L227.19,525.38 L228.06,525.47 L228.94,525.56 L229.81,525.65 L230.68,525.74 L231.56,525.83 L232.43,525.92 L233.31,526.01 L234.18,526.10 L235.06,526.20 L235.93,526.29 L236.81,526.38 L237.68,526.47 L238.56,526.56 L239.43,526.65 L240.30,526.74 L241.18,526.84 L242.05,526.93 L242.93,527.02 L243.80,527.12 L244.68,527.21 L245.55,527.31 L246.43,527.41 L247.30,527.50 L248.18,527.60 L249.05,527.70" stroke="#2a2aff" stroke-width="1.25" stroke-dasharray="1.35 1.6"/>
</g>
<g stroke="#111" stroke-width="1.0" fill="none">
<rect x="42.0" y="379.6" width="207.05" height="165.39999999999998"/>
</g>
<g stroke="#111" stroke-width="0.9" fill="none">
<path d="M42.00,545.0 v-3.4 M42.00,379.6 v3.4"/>
<path d="M67.88,545.0 v-2.0 M67.88,379.6 v2.0"/>
<path d="M93.76,545.0 v-3.4 M93.76,379.6 v3.4"/>
<path d="M119.64,545.0 v-2.0 M119.64,379.6 v2.0"/>
<path d="M145.53,545.0 v-3.4 M145.53,379.6 v3.4"/>
<path d="M171.41,545.0 v-2.0 M171.41,379.6 v2.0"/>
<path d="M197.29,545.0 v-3.4 M197.29,379.6 v3.4"/>
<path d="M223.17,545.0 v-2.0 M223.17,379.6 v2.0"/>
<path d="M249.05,545.0 v-3.4 M249.05,379.6 v3.4"/>
<path d="M42.0,545.00 h3.4 M249.05,545.00 h-3.4"/>
<path d="M42.0,528.46 h2.0 M249.05,528.46 h-2.0"/>
<path d="M42.0,511.92 h3.4 M249.05,511.92 h-3.4"/>
<path d="M42.0,495.38 h2.0 M249.05,495.38 h-2.0"/>
<path d="M42.0,478.84 h3.4 M249.05,478.84 h-3.4"/>
<path d="M42.0,462.30 h2.0 M249.05,462.30 h-2.0"/>
<path d="M42.0,445.76 h3.4 M249.05,445.76 h-3.4"/>
<path d="M42.0,429.22 h2.0 M249.05,429.22 h-2.0"/>
<path d="M42.0,412.68 h3.4 M249.05,412.68 h-3.4"/>
<path d="M42.0,396.14 h2.0 M249.05,396.14 h-2.0"/>
<path d="M42.0,379.60 h3.4 M249.05,379.60 h-3.4"/>
</g>
<g font-family="Liberation Serif, serif" fill="#000" stroke="#000" stroke-width="0.25" text-rendering="geometricPrecision">
<text x="38.7" y="547.5" font-size="9.2" text-anchor="end">0.0</text>
<text x="38.7" y="514.4" font-size="9.2" text-anchor="end">0.4</text>
<text x="38.7" y="481.3" font-size="9.2" text-anchor="end">0.8</text>
<text x="38.7" y="448.3" font-size="9.2" text-anchor="end">1.2</text>
<text x="38.7" y="415.2" font-size="9.2" text-anchor="end">1.6</text>
<text x="38.7" y="382.1" font-size="9.2" text-anchor="end">2.0</text>
<text x="42.0" y="555.3" font-size="9" text-anchor="middle">0</text>
<text x="93.8" y="555.3" font-size="9" text-anchor="middle">1</text>
<text x="145.5" y="555.3" font-size="9" text-anchor="middle">2</text>
<text x="197.3" y="555.3" font-size="9" text-anchor="middle">3</text>
<text x="249.1" y="555.3" font-size="9" text-anchor="middle">4</text>
<text x="137.2" y="481.4" font-size="9.55">hydrogenic</text>
<text x="89.7" y="505.5" font-size="10.1">Yukawa</text>
<text x="152.6" y="397.4" font-size="11.8" xml:space="preserve">b)  <tspan font-style="italic">Z</tspan><tspan font-size="7.6" dy="4.4">1</tspan><tspan dy="-4.4"> = –1, </tspan><tspan font-style="italic">r</tspan><tspan font-size="7.6" dy="4.4">s</tspan><tspan dy="-4.4"> = 1.6</tspan></text>
<text x="219.2" y="416.0" font-size="9.85">Exact</text>
<text x="219.2" y="428.4" font-size="9.85">B2</text>
<text x="219.2" y="440.5" font-size="9.85">B1</text>
<text x="219.2" y="452.5" font-size="9.85">Padé</text>
</g>
<g fill="none">
<path d="M194.0,412.4 H216.7" stroke="#111" stroke-width="1.0"/>
<path d="M194.0,424.9 H216.7" stroke="#ff2a2a" stroke-width="1.0" stroke-dasharray="2.65 2.36"/>
<path d="M193.9,437.1 H215.6" stroke="#2a2aff" stroke-width="1.3" stroke-dasharray="1.45 1.36"/>
<path d="M194.0,449.4 H216.7" stroke="#fbb883" stroke-width="0.75"/>
</g>
<g font-family="Liberation Serif, serif" fill="#000" stroke="#000" stroke-width="0.35" text-rendering="geometricPrecision">
<text x="133.7" y="568.3" font-size="16.2"><tspan font-style="italic">v</tspan>/<tspan font-style="italic">v</tspan><tspan font-size="9.2" dy="5.9">0</tspan></text>
<text transform="translate(17.3,485.8) rotate(-90)" font-size="17.5"><tspan font-style="italic">α</tspan>(<tspan font-style="italic">v</tspan>)<tspan font-style="italic">a</tspan><tspan font-size="9.5" dy="4.7">0</tspan></text>
</g>
</svg>
</body></html>
